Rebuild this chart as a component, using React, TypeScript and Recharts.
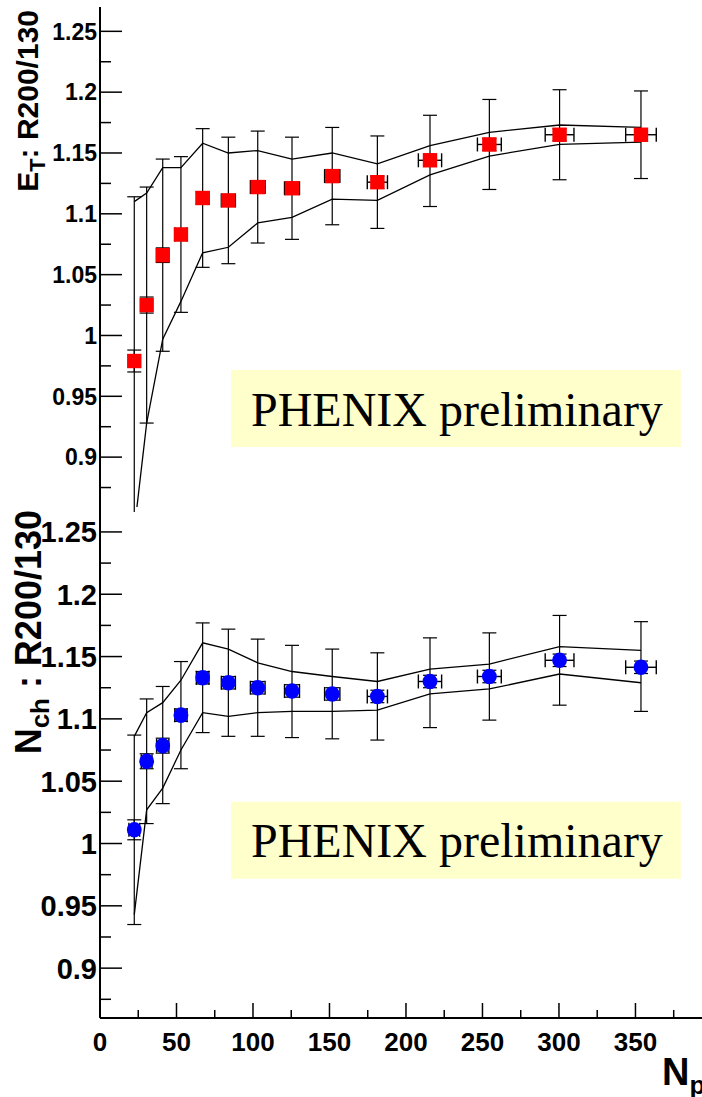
import React from "react";
import {
  ComposedChart, ErrorBar, Line, ReferenceArea, Scatter, XAxis, YAxis,
} from "recharts";

// N_part per centrality class and its horizontal uncertainty
const NPART = [22.4, 30.5, 41.0, 52.9, 67.1, 83.9, 103.1, 125.5, 151.8, 181.3, 215.7, 254.5, 300.4, 353.6];
const NPART_ERR = [3.5, 3.5, 4, 4, 4.1, 4.6, 4.8, 4.9, 5, 6.6, 7.6, 7.8, 9.4, 10];

// E_T ratio 200/130 GeV
const ET_RATIO = [0.979, 1.025, 1.066, 1.083, 1.113, 1.111, 1.122, 1.121, 1.131, 1.126, 1.144, 1.157, 1.165, 1.165];
const ET_ERR_HI = [1.114, 1.122, 1.145, 1.147, 1.170, 1.163, 1.168, 1.163, 1.171, 1.164, 1.181, 1.194, 1.202, 1.201];
const ET_ERR_LO = [0.84, 0.928, 0.987, 1.019, 1.056, 1.059, 1.076, 1.079, 1.091, 1.088, 1.106, 1.120, 1.128, 1.129];
const ET_STAT = [0.009, 0.0066, 0.006, 0.005, 0.005, 0.005, 0.005, 0.005, 0.005, 0.005, 0.005, 0.005, 0.005, 0.005];
const ET_BAND_HI = [1.110, 1.117, 1.138, 1.138, 1.158, 1.150, 1.152, 1.145, 1.150, 1.141, 1.156, 1.167, 1.173, 1.171];
const ET_BAND_LO = [0.84, 0.928, 0.997, 1.028, 1.068, 1.0725, 1.0925, 1.097, 1.112, 1.111, 1.132, 1.1475, 1.157, 1.159];

// N_ch ratio 200/130 GeV
const NCH_RATIO = [1.011, 1.066, 1.0785, 1.103, 1.133, 1.129, 1.125, 1.1224, 1.120, 1.118, 1.130, 1.134, 1.147, 1.1414];
const NCH_ERR_HI = [1.087, 1.116, 1.126, 1.146, 1.177, 1.172, 1.164, 1.159, 1.156, 1.153, 1.165, 1.169, 1.183, 1.178];
const NCH_ERR_LO = [0.935, 1.016, 1.032, 1.060, 1.089, 1.086, 1.086, 1.085, 1.084, 1.083, 1.093, 1.099, 1.111, 1.106];
const NCH_STAT = [0.008, 0.006, 0.006, 0.005, 0.005, 0.005, 0.005, 0.005, 0.005, 0.005, 0.005, 0.005, 0.005, 0.005];
const NCH_BAND_HI = [1.086, 1.105, 1.113, 1.131, 1.161, 1.156, 1.145, 1.138, 1.134, 1.130, 1.140, 1.144, 1.158, 1.155];
const NCH_BAND_LO = [0.943, 1.027, 1.0445, 1.075, 1.105, 1.102, 1.105, 1.106, 1.106, 1.107, 1.120, 1.124, 1.136, 1.129];

const X_MAJOR = [0, 50, 100, 150, 200, 250, 300, 350];
const X_MINOR = [25, 75, 125, 175, 225, 275, 325, 375];
const Y_MAJOR = [0.9, 0.95, 1, 1.05, 1.1, 1.15, 1.2, 1.25];
const Y_MINOR = [0.875, 0.925, 0.975, 1.025, 1.075, 1.125, 1.175, 1.225];

const X_TICKS = [...X_MAJOR, ...X_MINOR].sort((a, b) => a - b);
const Y_TICKS = [...Y_MAJOR, ...Y_MINOR].sort((a, b) => a - b);

const W = 704;
const PL = 100;
const PR = W;
const X_DOMAIN: [number, number] = [0, 394.8];
const TOP_Y_DOMAIN: [number, number] = [0.859, 1.27];
const BOT_Y_DOMAIN: [number, number] = [0.86, 1.27];
const FONT = "'Liberation Sans', Arial, sans-serif";
const SERIF = "'Liberation Serif', 'Times New Roman', serif";

const isMajor = (v: number, list: number[]) => list.some((m) => Math.abs(m - v) < 1e-6);

function buildRows(ratio: number[], hi: number[], lo: number[], stat: number[], bHi: number[], bLo: number[]) {
  return NPART.map((n, i) => ({
    n,
    y: ratio[i],
    err: [ratio[i] - lo[i], hi[i] - ratio[i]],
    stat: stat[i],
    nErr: NPART_ERR[i],
    upper: bHi[i],
    lower: bLo[i],
  }));
}

const etRows = buildRows(ET_RATIO, ET_ERR_HI, ET_ERR_LO, ET_STAT, ET_BAND_HI, ET_BAND_LO);
const nchRows = buildRows(NCH_RATIO, NCH_ERR_HI, NCH_ERR_LO, NCH_STAT, NCH_BAND_HI, NCH_BAND_LO);

const tk = { stroke: "#000", strokeWidth: 1.5 };
const frame = { stroke: "#000", strokeWidth: 2 };

const leftTick = (fontSize: number) => (p: any) => {
  const v = p.payload.value;
  const major = isMajor(v, Y_MAJOR);
  return (
    <g>
      <line x1={PL} x2={PL + (major ? 22 : 11)} y1={p.y} y2={p.y} {...tk} />
      {major && (
        <text x={PL - 3} y={p.y} dy="0.36em" textAnchor="end" fontFamily={FONT}
          fontWeight="bold" fontSize={fontSize} fill="#000">
          {String(v)}
        </text>
      )}
    </g>
  );
};

const rightTick = (p: any) => {
  const major = isMajor(p.payload.value, Y_MAJOR);
  return <line x1={PR - (major ? 20 : 11)} x2={PR} y1={p.y} y2={p.y} {...tk} />;
};

const topTick = (pt: number) => (p: any) => {
  const major = isMajor(p.payload.value, X_MAJOR);
  return <line x1={p.x} x2={p.x} y1={pt} y2={pt + (major ? 15 : 8)} {...tk} />;
};

const bottomTick = (pb: number, labels: boolean) => (p: any) => {
  const v = p.payload.value;
  const major = isMajor(v, X_MAJOR);
  return (
    <g>
      <line x1={p.x} x2={p.x} y1={pb - (major ? 15 : 8)} y2={pb} {...tk} />
      {labels && major && (
        <text x={p.x} y={pb + 24} dy="0.36em" textAnchor="middle" fontFamily={FONT}
          fontWeight="bold" fontSize={26} fill="#000">
          {String(v)}
        </text>
      )}
    </g>
  );
};

const square = (p: any) => (
  <rect x={p.cx - 7.2} y={p.cy - 7.2} width={14.4} height={14.4} fill="#ff0000" />
);
const circle = (p: any) => <ellipse cx={p.cx} cy={p.cy} rx={7.4} ry={7.8} fill="#0000ff" />;
const nothing = () => <g />;

const yTitle = (main: string, sub: string, rest: string, size: number, bx: number) => () => (
  <text x={bx} y={10} transform={`rotate(-90, ${bx}, 10)`} textAnchor="end"
    fontFamily={FONT} fontWeight="bold" fontSize={size} fill="#000">
    {main}
    <tspan fontSize={size * 0.72} dy={size * 0.22}>{sub}</tspan>
    <tspan dy={-size * 0.22}>{rest}</tspan>
  </text>
);

const xTitle = () => (
  <text x={662} y={585} fontFamily={FONT} fontWeight="bold" fontSize={38} fill="#000">
    N<tspan fontSize={26} dy={9}>part</tspan>
  </text>
);

function Panel({ rows, height, pt, pb, yDomain, bottomLabels, xAxisHeight, tickFont,
  title, boxY, markers, errorsOnTop }: any) {
  const errors = (
    <Scatter dataKey="y" data={rows} shape={nothing} isAnimationActive={false}>
      <ErrorBar dataKey="err" direction="y" width={7} stroke="#000" strokeWidth={1.2} isAnimationActive={false} />
      <ErrorBar dataKey="stat" direction="y" width={7} stroke="#000" strokeWidth={1.2} isAnimationActive={false} />
      <ErrorBar dataKey="nErr" direction="x" width={7} stroke="#000" strokeWidth={1.4} isAnimationActive={false} />
    </Scatter>
  );
  const marks = (
    <Scatter dataKey="y" data={rows} shape={markers} isAnimationActive={false} />
  );
  return (
    <ComposedChart width={W} height={height} data={rows}
      margin={{ top: pt, right: 0, bottom: height - pb - xAxisHeight, left: 0 }}>
      <XAxis dataKey="n" type="number" domain={X_DOMAIN} allowDataOverflow ticks={X_TICKS}
        interval={0} height={xAxisHeight} tickLine={false} axisLine={frame}
        tick={bottomTick(pb, bottomLabels)} label={bottomLabels ? xTitle : undefined} />
      <XAxis xAxisId="top" orientation="top" type="number" domain={X_DOMAIN} allowDataOverflow
        ticks={X_TICKS} interval={0} height={0} tickLine={false} axisLine={frame} tick={topTick(pt)} />
      <YAxis type="number" domain={yDomain} allowDataOverflow ticks={Y_TICKS} interval={0}
        width={PL} tickLine={false} axisLine={frame} tick={leftTick(tickFont)} label={title} />
      <YAxis yAxisId="right" orientation="right" type="number" domain={yDomain} allowDataOverflow
        ticks={Y_TICKS} interval={0} width={0} tickLine={false} axisLine={frame} tick={rightTick} />
      <ReferenceArea x1={85.6} x2={379.7} y1={boxY[0]} y2={boxY[1]} fill="#ffffcc" fillOpacity={1}
        stroke="none"
        label={{ value: "PHENIX preliminary", position: "insideLeft", offset: 20, fontSize: 48,
          fontFamily: SERIF, fill: "#000" }} />
      <Line dataKey="upper" type="linear" stroke="#000" strokeWidth={1.3} dot={false}
        activeDot={false} isAnimationActive={false} />
      <Line dataKey="lower" type="linear" stroke="#000" strokeWidth={1.3} dot={false}
        activeDot={false} isAnimationActive={false} />
      {errorsOnTop ? marks : errors}
      {errorsOnTop ? errors : marks}
    </ComposedChart>
  );
}

export default function App() {
  return (
    <div style={{ position: "absolute", left: 0, top: 0, width: 702, height: 1097,
      overflow: "hidden", background: "#fff" }}>
      <div style={{ position: "absolute", left: 0, top: 0 }}>
        <Panel rows={etRows} height={512} pt={7} pb={507} xAxisHeight={0} yDomain={TOP_Y_DOMAIN}
          bottomLabels={false} tickFont={23} boxY={[0.9083, 0.9716]} markers={square}
          errorsOnTop={false} title={yTitle("E", "T", ": R200/130", 30, 38)} />
      </div>
      <div style={{ position: "absolute", left: 0, top: 500 }}>
        <Panel rows={nchRows} height={597} pt={7} pb={518} xAxisHeight={79} yDomain={BOT_Y_DOMAIN}
          bottomLabels={true} tickFont={29} boxY={[0.9717, 1.0335]} markers={circle}
          errorsOnTop={true} title={yTitle("N", "ch", " : R200/130", 36, 41)} />
      </div>
    </div>
  );
}
